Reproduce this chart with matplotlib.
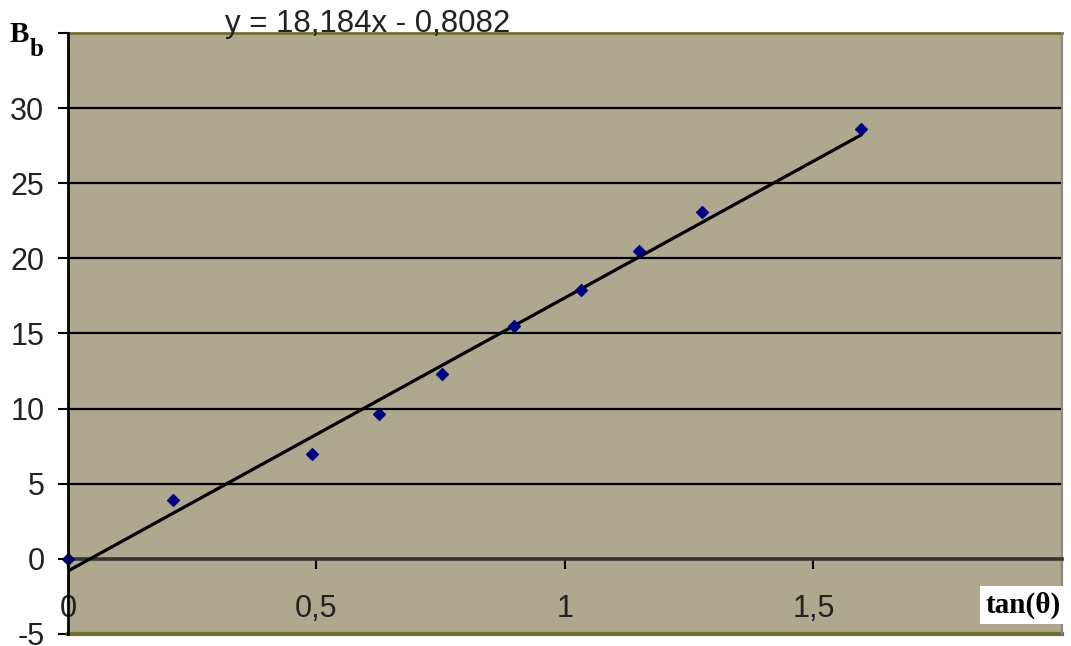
import numpy as np
import matplotlib
matplotlib.use("Agg")
import matplotlib.pyplot as plt

# measured points (tan theta, B_b)
tan_theta = [0.0, 0.212, 0.49, 0.625, 0.752, 0.898, 1.033, 1.148, 1.275, 1.595]
b_b = [0.0, 3.93, 7.0, 9.65, 12.27, 15.49, 17.89, 20.49, 23.11, 28.6]

# trendline from the chart
slope = 18.184
intercept = -0.8082
eq_text = "y = 18,184x - 0,8082"

x_ticks = [0, 0.5, 1, 1.5, 2]
x_labels = ["0", "0,5", "1", "1,5", ""]
y_ticks = [-5, 0, 5, 10, 15, 20, 25, 30, 35]
y_labels = ["-5", "0", "5", "10", "15", "20", "25", "30", ""]

plt.rcParams['font.family'] = ['Liberation Sans', 'DejaVu Sans']
serif = ['Liberation Serif', 'DejaVu Serif']

fig = plt.figure(figsize=(10.71, 6.46), dpi=100)
ax = fig.add_axes([0.0635, 0.0186, 0.928, 0.9304])
ax.set_facecolor('#ada88e')
ax.set_xlim(0, 2)
ax.set_ylim(-5, 35)

# horizontal gridlines
for yv in y_ticks[2:-1]:
    ax.axhline(yv, color='black', lw=1.6, zorder=1)

# plot area border
ax.axhline(-5, color='#6f6f30', lw=3, zorder=2, clip_on=False)
ax.axhline(35, color='#6f6f30', lw=2, zorder=2, clip_on=False)
ax.axvline(2, color='#8a8a80', lw=1.5, zorder=2, clip_on=False)

# trendline
xs = np.array([0, tan_theta[-1]])
ax.plot(xs, slope * xs + intercept, color='black', lw=2.3, zorder=3)

ax.scatter(tan_theta, b_b, marker='D', s=36, color='#000080', zorder=4,
           clip_on=False)

for s in ['top', 'right']:
    ax.spines[s].set_visible(False)
ax.spines['bottom'].set_position(('data', 0))
ax.spines['bottom'].set_linewidth(2.6)
ax.spines['bottom'].set_color('#333333')
ax.spines['left'].set_linewidth(2)
ax.spines['left'].set_zorder(5)

ax.set_xticks(x_ticks)
ax.set_xticklabels(x_labels)
ax.set_yticks(y_ticks)
ax.set_yticklabels(y_labels)
ax.tick_params(axis='y', direction='out', length=7, width=1.5, pad=10,
               labelsize=22, colors='black', labelcolor='#222222')
ax.tick_params(axis='x', direction='out', length=7, width=1.5, pad=18,
               labelsize=22, colors='black', labelcolor='#222222')

ax.text(0.604, 35.6, eq_text, fontsize=22.5, ha='center', va='center',
        color='#222222', zorder=6)

# axis names
ax.text(-0.0976, 34.92, 'B', fontsize=21, fontweight='bold', family=serif,
        ha='center', va='center', color='black', clip_on=False)
ax.text(-0.0634, 33.9, 'b', fontsize=18, fontweight='bold', family=serif,
        ha='center', va='center', color='black', clip_on=False)

ax.text(1.997, -3.07, 'tan(θ)', fontsize=21, fontweight='bold',
        family=serif, ha='right', va='center', color='black', zorder=6,
        bbox=dict(facecolor='white', edgecolor='none', pad=4))

fig.savefig("out.png", dpi=100, facecolor='white')
